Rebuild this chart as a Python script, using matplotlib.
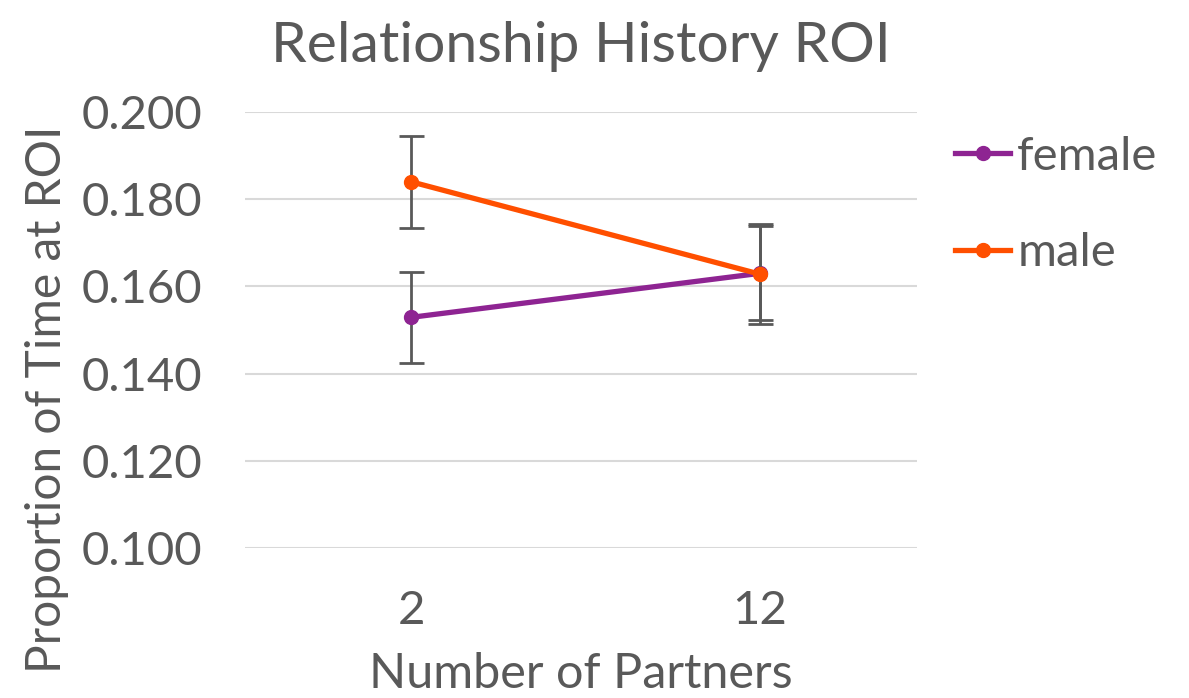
import matplotlib.pyplot as plt
from matplotlib.lines import Line2D

# data
partners = ["2", "12"]
female = [0.1529, 0.1630]
female_err = [0.0105, 0.0108]
male = [0.1840, 0.1628]
male_err = [0.0106, 0.0114]

plt.rcParams['font.family'] = ['Lato', 'DejaVu Sans']
grey = '#595959'
purple = '#8E2492'
orange = '#FF4F00'

fig = plt.figure(figsize=(11.89, 6.98), dpi=100)
ax = fig.add_axes([245 / 1189, 1 - 548 / 698, (917 - 245) / 1189, (548 - 112) / 698])

x = list(range(len(partners)))
ax.errorbar(x, female, yerr=female_err, color=purple, lw=3.8, marker='o', ms=10,
            ecolor=grey, elinewidth=2, capsize=9, capthick=2, zorder=3)
ax.errorbar(x, male, yerr=male_err, color=orange, lw=3.8, marker='o', ms=10,
            ecolor=grey, elinewidth=2, capsize=9, capthick=2, zorder=4)

ax.set_xlim(-0.476, 1.45)
ax.set_ylim(0.1, 0.2)
ax.set_yticks([0.1, 0.12, 0.14, 0.16, 0.18, 0.2])
ax.set_yticklabels([f"{v:.3f}" for v in ax.get_yticks()])
ax.set_xticks(x)
ax.set_xticklabels(partners)
ax.grid(axis='y', color='#d9d9d9', lw=1.5)
ax.set_axisbelow(True)
for s in ax.spines.values():
    s.set_visible(False)
ax.tick_params(length=0, labelsize=34, colors=grey, pad=31)
ax.tick_params(axis='x', pad=30)

ax.set_title("Relationship History ROI", fontsize=41, color=grey, pad=36)
ax.set_xlabel("Number of Partners", fontsize=35, color=grey)
ax.xaxis.set_label_coords(0.5, -0.2385)
ax.set_ylabel("Proportion of Time at ROI", fontsize=34.5, color=grey)
ax.yaxis.set_label_coords(-0.262, 0.342)

handles = [Line2D([], [], color=purple, lw=3.8, marker='o', ms=10),
           Line2D([], [], color=orange, lw=3.8, marker='o', ms=10)]
ax.legend(handles, ["female", "male"], loc='upper left', bbox_to_anchor=(1.0565, 0.945),
          frameon=False, fontsize=34, labelcolor=grey, handlelength=1.17,
          handletextpad=0.15, labelspacing=1.15, borderaxespad=0, borderpad=0)

fig.savefig("out.png", dpi=100)
